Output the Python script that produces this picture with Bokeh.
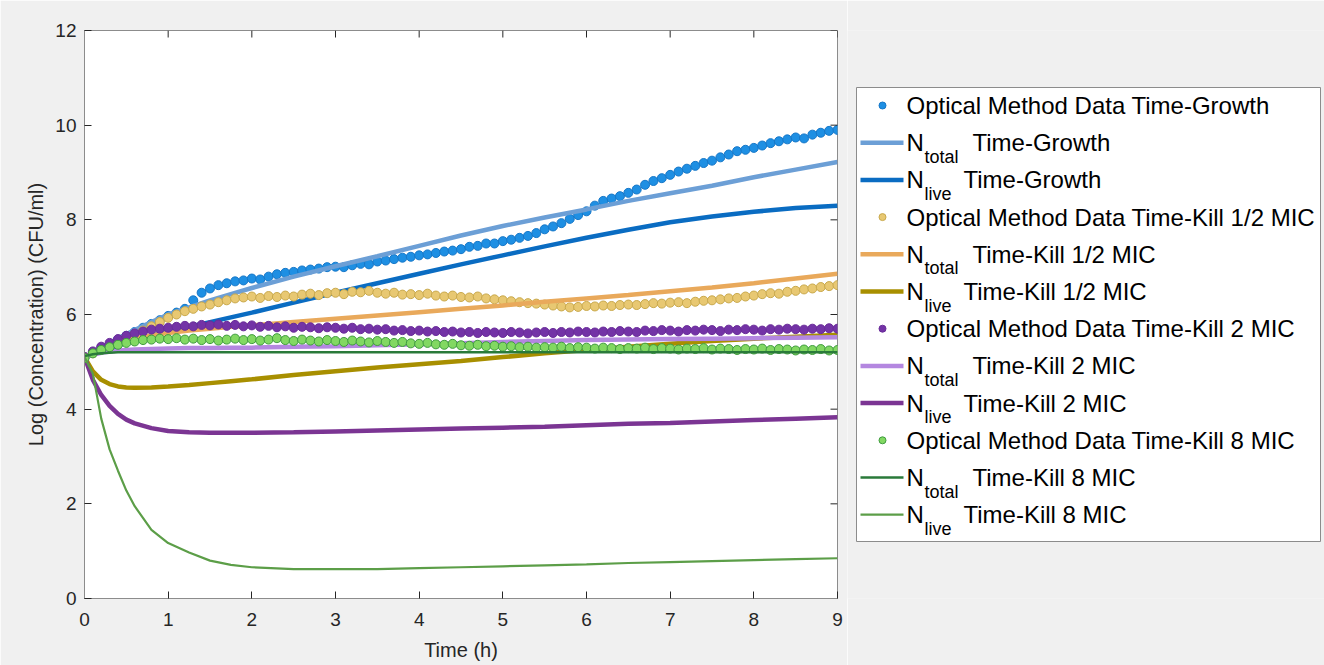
import math
from bokeh.plotting import figure
from bokeh.layouts import row
from bokeh.models import Range1d, FixedTicker
from bokeh.core.properties import value
from bokeh.embed import file_html
from bokeh.resources import INLINE

FONT = "Liberation Sans"
BG = "#f0f0f0"
INK = "#262626"
FRAME = "#8c8c8c"

# ---------------- data ----------------
t_data = [0.0, 0.1, 0.2, 0.3, 0.4, 0.5, 0.6, 0.7, 0.8, 0.9,
          1.0, 1.1, 1.2, 1.3, 1.4, 1.5, 1.6, 1.7, 1.8, 1.9,
          2.0, 2.1, 2.2, 2.3, 2.4, 2.5, 2.6, 2.7, 2.8, 2.9,
          3.0, 3.1, 3.2, 3.3, 3.4, 3.5, 3.6, 3.7, 3.8, 3.9,
          4.0, 4.1, 4.2, 4.3, 4.4, 4.5, 4.6, 4.7, 4.8, 4.9,
          5.0, 5.1, 5.2, 5.3, 5.4, 5.5, 5.6, 5.7, 5.8, 5.9,
          6.0, 6.1, 6.2, 6.3, 6.4, 6.5, 6.6, 6.7, 6.8, 6.9,
          7.0, 7.1, 7.2, 7.3, 7.4, 7.5, 7.6, 7.7, 7.8, 7.9,
          8.0, 8.1, 8.2, 8.3, 8.4, 8.5, 8.6, 8.7, 8.8, 8.9, 9.0]

growth_data = [5.10, 5.20, 5.29, 5.36, 5.47, 5.55, 5.63, 5.72, 5.80, 5.88,
               5.97, 6.04, 6.12, 6.30, 6.46, 6.55, 6.62, 6.66, 6.70, 6.72,
               6.76, 6.74, 6.80, 6.85, 6.88, 6.90, 6.93, 6.95, 6.97, 7.00,
               7.01, 7.00, 7.04, 7.07, 7.06, 7.12, 7.14, 7.17, 7.20, 7.22,
               7.25, 7.27, 7.30, 7.33, 7.35, 7.38, 7.43, 7.45, 7.50, 7.50,
               7.55, 7.58, 7.62, 7.66, 7.72, 7.80, 7.86, 7.93, 8.02, 8.10,
               8.18, 8.30, 8.40, 8.45, 8.50, 8.57, 8.64, 8.74, 8.82, 8.88,
               8.95, 9.02, 9.08, 9.14, 9.20, 9.25, 9.32, 9.38, 9.45, 9.48,
               9.52, 9.57, 9.62, 9.66, 9.70, 9.74, 9.72, 9.80, 9.84, 9.88, 9.90]

half_mic_data = [5.10, 5.18, 5.27, 5.35, 5.43, 5.50, 5.58, 5.66, 5.75, 5.84,
                 5.93, 6.00, 6.07, 6.12, 6.17, 6.21, 6.26, 6.30, 6.34, 6.36,
                 6.38, 6.35, 6.39, 6.37, 6.40, 6.38, 6.42, 6.44, 6.41, 6.45,
                 6.46, 6.43, 6.48, 6.47, 6.50, 6.46, 6.44, 6.46, 6.42, 6.43,
                 6.41, 6.44, 6.40, 6.38, 6.40, 6.37, 6.36, 6.38, 6.34, 6.32,
                 6.30, 6.28, 6.26, 6.24, 6.23, 6.21, 6.19, 6.17, 6.15, 6.16,
                 6.18, 6.17, 6.19, 6.18, 6.20, 6.21, 6.20, 6.22, 6.24, 6.23,
                 6.25, 6.26, 6.24, 6.27, 6.29, 6.30, 6.32, 6.34, 6.35, 6.38,
                 6.40, 6.43, 6.45, 6.44, 6.48, 6.50, 6.53, 6.55, 6.58, 6.60, 6.62]

two_mic_data = [5.10, 5.22, 5.32, 5.40, 5.48, 5.55, 5.60, 5.64, 5.68, 5.70,
                5.72, 5.74, 5.76, 5.75, 5.78, 5.77, 5.79, 5.76, 5.78, 5.75,
                5.77, 5.74, 5.76, 5.73, 5.75, 5.72, 5.74, 5.73, 5.71, 5.73,
                5.72, 5.70, 5.72, 5.69, 5.70, 5.68, 5.69, 5.66, 5.67, 5.65,
                5.66, 5.64, 5.65, 5.63, 5.64, 5.62, 5.63, 5.61, 5.63, 5.62,
                5.61, 5.63, 5.62, 5.60, 5.62, 5.63, 5.61, 5.63, 5.62, 5.64,
                5.63, 5.62, 5.64, 5.63, 5.65, 5.64, 5.63, 5.66, 5.65, 5.67,
                5.66, 5.64, 5.67, 5.66, 5.68, 5.67, 5.65, 5.68, 5.67, 5.69,
                5.68, 5.66, 5.69, 5.68, 5.70, 5.69, 5.68, 5.70, 5.69, 5.71, 5.70]

eight_mic_data = [5.08, 5.18, 5.25, 5.31, 5.36, 5.40, 5.43, 5.46, 5.47, 5.49,
                  5.48, 5.50, 5.47, 5.49, 5.46, 5.48, 5.45, 5.47, 5.49, 5.46,
                  5.48, 5.45, 5.47, 5.50, 5.46, 5.44, 5.47, 5.45, 5.43, 5.46,
                  5.44, 5.42, 5.45, 5.43, 5.41, 5.44, 5.42, 5.40, 5.42, 5.39,
                  5.38, 5.40, 5.37, 5.36, 5.38, 5.35, 5.34, 5.36, 5.33, 5.34,
                  5.32, 5.33, 5.31, 5.32, 5.30, 5.31, 5.30, 5.32, 5.29, 5.31,
                  5.30, 5.28, 5.30, 5.29, 5.27, 5.29, 5.28, 5.30, 5.27, 5.29,
                  5.28, 5.26, 5.28, 5.27, 5.29, 5.26, 5.28, 5.27, 5.25, 5.27,
                  5.26, 5.28, 5.25, 5.27, 5.26, 5.24, 5.26, 5.25, 5.27, 5.24, 5.25]

t_model = [0.0, 0.1, 0.2, 0.3, 0.4, 0.5, 0.6, 0.8, 1.0, 1.25, 1.5, 1.75, 2.0,
           2.5, 3.0, 3.5, 4.0, 4.5, 5.0, 5.5, 6.0, 6.5, 7.0, 7.5, 8.0, 8.5, 9.0]

ntotal_growth = [5.10, 5.20, 5.30, 5.40, 5.50, 5.58, 5.67, 5.84, 6.00, 6.15, 6.30, 6.43, 6.56,
                 6.80, 7.02, 7.23, 7.45, 7.67, 7.87, 8.05, 8.22, 8.40, 8.56, 8.72, 8.90, 9.06, 9.22]
nlive_growth = [5.10, 5.16, 5.22, 5.28, 5.34, 5.40, 5.45, 5.55, 5.64, 5.74, 5.84, 5.94, 6.04,
                6.25, 6.46, 6.66, 6.86, 7.06, 7.25, 7.44, 7.62, 7.79, 7.95, 8.07, 8.17, 8.25, 8.30]
ntotal_half = [5.10, 5.18, 5.26, 5.33, 5.39, 5.44, 5.49, 5.56, 5.61, 5.66, 5.70, 5.74, 5.77,
               5.84, 5.91, 5.98, 6.05, 6.12, 6.19, 6.27, 6.34, 6.41, 6.49, 6.57, 6.66, 6.76, 6.86]
nlive_half = [5.10, 4.80, 4.62, 4.53, 4.48, 4.46, 4.45, 4.46, 4.48, 4.51, 4.55, 4.59, 4.63,
              4.72, 4.80, 4.88, 4.95, 5.02, 5.10, 5.18, 5.25, 5.32, 5.38, 5.44, 5.49, 5.53, 5.57]
ntotal_two = [5.10, 5.15, 5.19, 5.22, 5.24, 5.25, 5.26, 5.27, 5.28, 5.29, 5.29, 5.30, 5.30,
              5.32, 5.33, 5.35, 5.37, 5.39, 5.42, 5.44, 5.46, 5.47, 5.48, 5.49, 5.50, 5.51, 5.52]
nlive_two = [5.10, 4.62, 4.30, 4.07, 3.90, 3.78, 3.70, 3.60, 3.54, 3.51, 3.50, 3.50, 3.50,
             3.51, 3.53, 3.55, 3.57, 3.59, 3.61, 3.63, 3.66, 3.69, 3.71, 3.74, 3.77, 3.80, 3.83]
ntotal_eight = [5.12, 5.16, 5.18, 5.19, 5.20, 5.20, 5.20, 5.20, 5.20, 5.20, 5.20, 5.20, 5.20,
                5.20, 5.20, 5.20, 5.20, 5.20, 5.20, 5.20, 5.20, 5.20, 5.20, 5.20, 5.20, 5.20, 5.20]
nlive_eight = [5.10, 4.75, 3.80, 3.15, 2.70, 2.28, 1.95, 1.45, 1.17, 0.97, 0.80, 0.71, 0.66,
               0.62, 0.62, 0.62, 0.64, 0.66, 0.68, 0.70, 0.72, 0.75, 0.77, 0.79, 0.81, 0.83, 0.85]

x_ticks = [0, 1, 2, 3, 4, 5, 6, 7, 8, 9]
y_ticks = [0, 2, 4, 6, 8, 10, 12]
X_MAX, Y_MAX = 9, 12

# (kind, y-values, line/edge colour, fill colour, width, legend main, legend sub, legend rest)
series = [
    ("dots", growth_data, "#1677c8", "#1e8fe3", 1, "Optical Method Data Time-Growth", "", ""),
    ("line", ntotal_growth, "#6c9fd6", None, 4.5, "N", "total", "Time-Growth"),
    ("line", nlive_growth, "#0a6cc2", None, 4.5, "N", "live", "Time-Growth"),
    ("dots", half_mic_data, "#c9a94c", "#e8c872", 1, "Optical Method Data Time-Kill 1/2 MIC", "", ""),
    ("line", ntotal_half, "#e9a95b", None, 4.5, "N", "total", "Time-Kill 1/2 MIC"),
    ("line", nlive_half, "#a88f00", None, 4.5, "N", "live", "Time-Kill 1/2 MIC"),
    ("dots", two_mic_data, "#6a2c99", "#7333a6", 1, "Optical Method Data Time-Kill 2 MIC", "", ""),
    ("line", ntotal_two, "#b487e0", None, 4.5, "N", "total", "Time-Kill 2 MIC"),
    ("line", nlive_two, "#7b3593", None, 4.5, "N", "live", "Time-Kill 2 MIC"),
    ("dots", eight_mic_data, "#3f9c3f", "#82d862", 1, "Optical Method Data Time-Kill 8 MIC", "", ""),
    ("line", ntotal_eight, "#2a7a3a", None, 2.5, "N", "total", "Time-Kill 8 MIC"),
    ("line", nlive_eight, "#5c9e48", None, 2.2, "N", "live", "Time-Kill 8 MIC"),
]

# ---------------- main plot ----------------
MAIN_W, H = 847, 665
B_TOP, B_BOT = 30, 67
p = figure(width=MAIN_W, height=H, output_backend="svg", toolbar_location=None,
           x_range=Range1d(0, X_MAX), y_range=Range1d(0, Y_MAX),
           min_border_left=84, min_border_right=10, min_border_top=B_TOP, min_border_bottom=B_BOT,
           background_fill_color="white", border_fill_color=BG)
p.grid.visible = False
p.outline_line_color = FRAME
p.outline_line_width = 1

for kind, ys, col, fill, w, *_ in series:
    if kind == "dots":
        p.scatter(t_data, ys, size=9, fill_color=fill, line_color=col, line_width=w)
    else:
        p.line(t_model, ys, line_color=col, line_width=w)

# inward ticks on the top and right edges of the box
p.ray(x=x_ticks, y=[Y_MAX] * len(x_ticks), length=7, length_units="screen",
      angle=-math.pi / 2, line_color=INK, line_width=1)
p.ray(x=[X_MAX] * len(y_ticks), y=y_ticks, length=7, length_units="screen",
      angle=math.pi, line_color=INK, line_width=1)

for ax, tk in [(p.xaxis[0], x_ticks), (p.yaxis[0], y_ticks)]:
    ax.ticker = FixedTicker(ticks=tk)
    ax.major_tick_in = 7
    ax.major_tick_out = 0
    ax.minor_tick_line_color = None
    ax.axis_line_color = FRAME
    ax.major_tick_line_color = INK
    ax.major_label_text_color = INK
    ax.major_label_text_font = FONT
    ax.major_label_text_font_size = "19px"
    ax.axis_label_text_font = FONT
    ax.axis_label_text_font_style = "normal"
    ax.axis_label_text_font_size = "20px"
    ax.axis_label_text_color = INK

xa = p.xaxis[0]
ya = p.yaxis[0]
xa.axis_label = "Time (h)"
ya.axis_label = "Log (Concentration) (CFU/ml)"
xa.major_label_standoff = 14
ya.major_label_standoff = 8
xa.axis_label_standoff = 10
ya.axis_label_standoff = 5

# ---------------- legend panel ----------------
# The row aligns this panel's frame with the main frame (page y 30..598),
# so its y range is expressed in page pixels over that span.
LW = 1324 - MAIN_W
lg = figure(width=LW, height=H, output_backend="svg", toolbar_location=None,
            x_range=Range1d(0, LW), y_range=Range1d(H - B_BOT, B_TOP),
            x_axis_type=None, y_axis_type=None,
            min_border_left=0, min_border_right=0, min_border_top=B_TOP, min_border_bottom=B_BOT,
            background_fill_color=BG, border_fill_color=BG)
lg.grid.visible = False
lg.outline_line_color = None

box_l, box_r, box_t, box_b = 9, 473, 87, 541
lg.quad(left=[box_l], right=[box_r], top=[box_t], bottom=[box_b],
        fill_color="white", line_color=FRAME, line_width=1)

row0, step = 105, 37.2
line_x0, line_x1, dot_x, text_x, sub_x = 13, 56, 35, 59, 77
main_x, main_y, main_t = [], [], []
sub_xs, sub_ys, sub_t = [], [], []
for i, (kind, ys, col, fill, w, lab, sub, rest) in enumerate(series):
    yy = row0 + step * i
    if kind == "dots":
        lg.scatter([dot_x], [yy], size=7, fill_color=fill, line_color=col, line_width=1)
        main_x.append(text_x); main_y.append(yy); main_t.append(lab)
    else:
        lg.line([line_x0, line_x1], [yy, yy], line_color=col, line_width=w)
        main_x.append(text_x); main_y.append(yy); main_t.append(lab)
        sub_xs.append(sub_x); sub_ys.append(yy + 14); sub_t.append(sub)
        rest_x = text_x + (66 if sub == "total" else 57)
        main_x.append(rest_x); main_y.append(yy); main_t.append(rest)

lg.text(main_x, main_y, text=main_t, text_font=value(FONT), text_font_size=value("24px"),
        text_color="black", text_baseline="middle", text_align="left")
lg.text(sub_xs, sub_ys, text=sub_t, text_font=value(FONT), text_font_size=value("18px"),
        text_color="black", text_baseline="middle", text_align="left")

layout = row(p, lg)
open("out.html", "w").write(file_html(layout, INLINE))
